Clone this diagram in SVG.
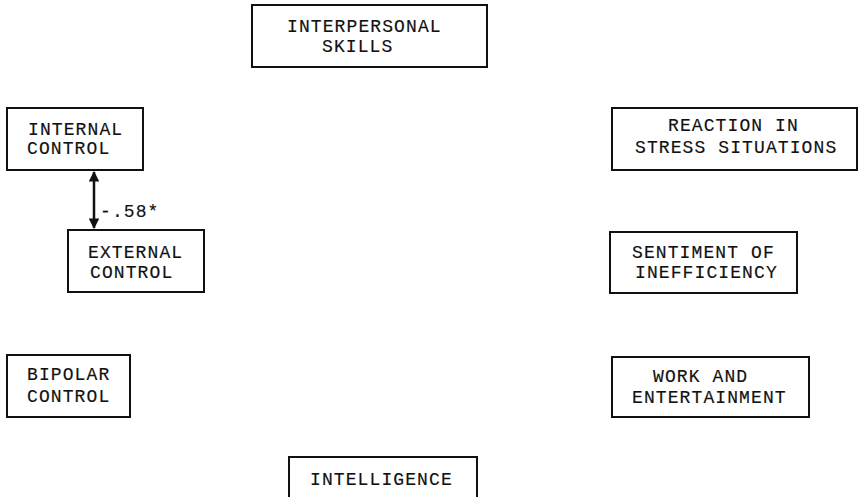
<svg xmlns="http://www.w3.org/2000/svg" width="860" height="497" viewBox="0 0 860 497">
<style>
.box{fill:#fff;stroke:#111;stroke-width:2}
.t{font-family:"Liberation Mono","Courier New",monospace;font-size:18px;letter-spacing:1.1px;fill:#111;stroke:#111;stroke-width:0.15}
.c{stroke:#111;stroke-width:2.5;fill:none}
</style>
<defs>
<marker id="ah" viewBox="0 0 10 10" refX="9" refY="5" markerWidth="4.5" markerHeight="4.2" orient="auto-start-reverse" markerUnits="strokeWidth">
<path d="M0,0 L10,5 L0,10 Z" fill="#111"/>
</marker>
</defs>
<rect width="860" height="497" fill="#fff"/>
<g id="interpersonal-skills">
<rect class="box" x="252" y="5" width="235" height="62"/>
<text class="t" x="287" y="32">INTERPERSONAL</text>
<text class="t" x="322" y="52">SKILLS</text>
</g>
<g id="internal-control">
<rect class="box" x="7" y="108" width="136" height="62"/>
<text class="t" x="28" y="135">INTERNAL</text>
<text class="t" x="27" y="154">CONTROL</text>
</g>
<g id="external-control">
<rect class="box" x="68" y="230" width="136" height="62"/>
<text class="t" x="88" y="258">EXTERNAL</text>
<text class="t" x="90" y="278">CONTROL</text>
</g>
<g id="bipolar-control">
<rect class="box" x="7" y="355" width="123" height="62"/>
<text class="t" x="27" y="380">BIPOLAR</text>
<text class="t" x="27" y="402">CONTROL</text>
</g>
<g id="reaction-stress">
<rect class="box" x="612" y="108" width="245" height="62"/>
<text class="t" x="668" y="131">REACTION IN</text>
<text class="t" x="635" y="153">STRESS SITUATIONS</text>
</g>
<g id="sentiment-inefficiency">
<rect class="box" x="610" y="232" width="187" height="61"/>
<text class="t" x="632" y="258">SENTIMENT OF</text>
<text class="t" x="635" y="278">INEFFICIENCY</text>
</g>
<g id="work-entertainment">
<rect class="box" x="612" y="357" width="197" height="60"/>
<text class="t" x="653" y="382">WORK AND</text>
<text class="t" x="632" y="403">ENTERTAINMENT</text>
</g>
<g id="intelligence">
<rect class="box" x="289" y="457" width="188" height="50"/>
<text class="t" x="310" y="485">INTELLIGENCE</text>
</g>
<g id="connectors">
<line class="c" x1="94" y1="172" x2="94" y2="228" marker-start="url(#ah)" marker-end="url(#ah)"/>
<text class="t" x="100" y="217">-.58*</text>
</g>
</svg>
